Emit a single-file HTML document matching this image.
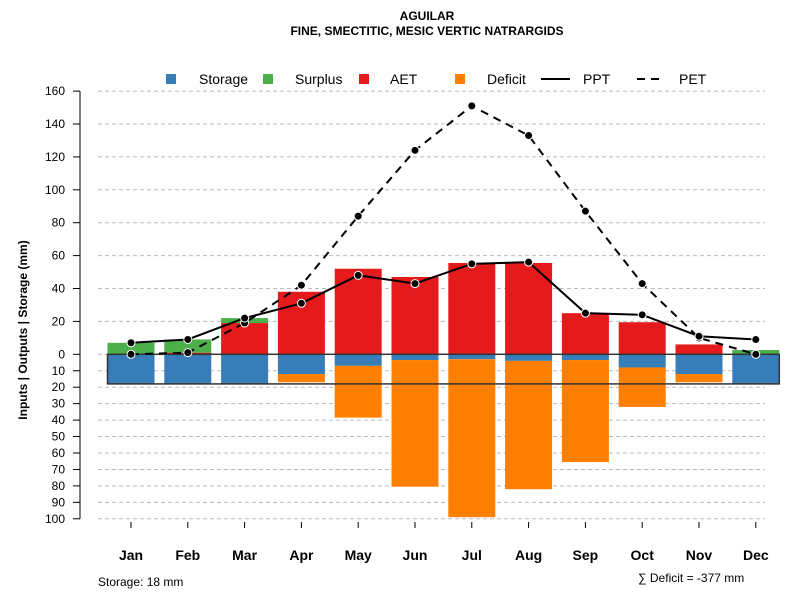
<!DOCTYPE html>
<html><head><meta charset="utf-8"><style>
body{margin:0;background:#fff;}
svg{display:block;font-family:"Liberation Sans",sans-serif;}
</style></head><body>
<svg id="c" width="800" height="600">
<text x="427" y="20" text-anchor="middle" font-size="12" font-weight="bold">AGUILAR</text>
<text x="427" y="35" text-anchor="middle" font-size="12" font-weight="bold">FINE, SMECTITIC, MESIC VERTIC NATRARGIDS</text>
<text transform="translate(27,330) rotate(-90)" text-anchor="middle" font-size="12" font-weight="bold">Inputs | Outputs | Storage    (mm)</text>
<g id="legend">
<rect x="166" y="74" width="10" height="10" fill="#377eb8"/>
<text x="199" y="84" font-size="14">Storage</text>
<rect x="263" y="74" width="10" height="10" fill="#4daf4a"/>
<text x="295" y="84" font-size="14">Surplus</text>
<rect x="359" y="74" width="10" height="10" fill="#e41a1c"/>
<text x="390" y="84" font-size="14">AET</text>
<rect x="455" y="74" width="10" height="10" fill="#ff7f00"/>
<text x="487" y="84" font-size="14">Deficit</text>
<line x1="541" y1="79" x2="570" y2="79" stroke="#000" stroke-width="2"/>
<text x="583" y="84" font-size="14">PPT</text>
<line x1="637" y1="79" x2="663" y2="79" stroke="#000" stroke-width="2" stroke-dasharray="8,6"/>
<text x="679" y="84" font-size="14">PET</text>
</g>
<text x="98" y="586" font-size="12">Storage: 18 mm</text>
<text x="638" y="582" font-size="12">∑ Deficit = -377 mm</text>
</svg>
<script>
const months=["Jan","Feb","Mar","Apr","May","Jun","Jul","Aug","Sep","Oct","Nov","Dec"];
const storage=[18,18,18,12,7,3.5,3,4,3.5,8,12,18];
const deficit=[0,0,0,5,31.5,77,96,78,62,24,5,0];
const aet=[0,1,19,38,52,47,55.5,55.5,25,19.5,6,0];
const surplus=[7,8,3,0,0,0,0,0,0,0,0,2.6];
const ppt=[7,9,22,31,48,43,55,56,25,24,11,9];
const pet=[0,1,19,42,84,124,151,133,87,43,10,0];
const upTicks=[0,20,40,60,80,100,120,140,160];
const lowTicks=[10,20,30,40,50,60,70,80,90,100];
const capacity=18;
const svg=document.getElementById('c');
const NS="http://www.w3.org/2000/svg";
const y0=354.3,k=1.645;
const yUp=v=>y0-v*k, yDn=v=>y0+v*k;
const xM=i=>131+i*56.8;
const bw=47;
function el(t,a,p){const e=document.createElementNS(NS,t);for(const n in a)e.setAttribute(n,a[n]);(p||svg).appendChild(e);return e;}
const g=el('g',{});
// grid & y axis
el('line',{x1:80,y1:yUp(160),x2:80,y2:yDn(100),stroke:'#000'},g);
upTicks.forEach(v=>{
 const l=el('line',{x1:98,y1:yUp(v),x2:765,y2:yUp(v),stroke:'#bbb','stroke-dasharray':'4,3'},g);
 
 el('line',{x1:73,y1:yUp(v),x2:80,y2:yUp(v),stroke:'#000'},g);
 const t=el('text',{x:65,y:yUp(v)+4,'text-anchor':'end','font-size':12},g);t.textContent=v;
 
});
lowTicks.forEach(v=>{
 const l=el('line',{x1:98,y1:yDn(v),x2:765,y2:yDn(v),stroke:'#bbb','stroke-dasharray':'4,3'},g);
 
 el('line',{x1:73,y1:yDn(v),x2:80,y2:yDn(v),stroke:'#000'},g);
 const t=el('text',{x:65,y:yDn(v)+4,'text-anchor':'end','font-size':12},g);t.textContent=v;
 
});
// bars
months.forEach((m,i)=>{
 const x=xM(i)-bw/2;
 let r=el('rect',{x:x,y:y0,width:bw,height:storage[i]*k,fill:'#377eb8'});
 
 if(deficit[i]>0){r=el('rect',{x:x,y:yDn(storage[i]),width:bw,height:deficit[i]*k,fill:'#ff7f00'});
 }
 if(aet[i]>0){r=el('rect',{x:x,y:yUp(aet[i]),width:bw,height:aet[i]*k,fill:'#e41a1c'});
 }
 if(surplus[i]>0){r=el('rect',{x:x,y:yUp(aet[i]+surplus[i]),width:bw,height:surplus[i]*k,fill:'#4daf4a'});
 }
 el('line',{x1:xM(i),y1:522,x2:xM(i),y2:528,stroke:'#000'});
 const t=el('text',{x:xM(i),y:560,'text-anchor':'middle','font-size':14,'font-weight':'bold'});t.textContent=m;
 
});
const box=el('rect',{x:xM(0)-bw/2,y:y0,width:xM(11)+bw/2-(xM(0)-bw/2),height:capacity*k,fill:'none',stroke:'#333','stroke-width':1.5});

function series(d,dash,name){
 const p=el('polyline',{points:d.map((v,i)=>xM(i)+','+yUp(v)).join(' '),fill:'none',stroke:'#000','stroke-width':2,'stroke-dasharray':dash});
 
 d.forEach((v,i)=>{const c=el('circle',{cx:xM(i),cy:yUp(v),r:4,fill:'#000',stroke:'#fff','stroke-width':1});
 });
}
series(pet,'8,6','pet');
series(ppt,'none','ppt');
</script>
</body></html>
